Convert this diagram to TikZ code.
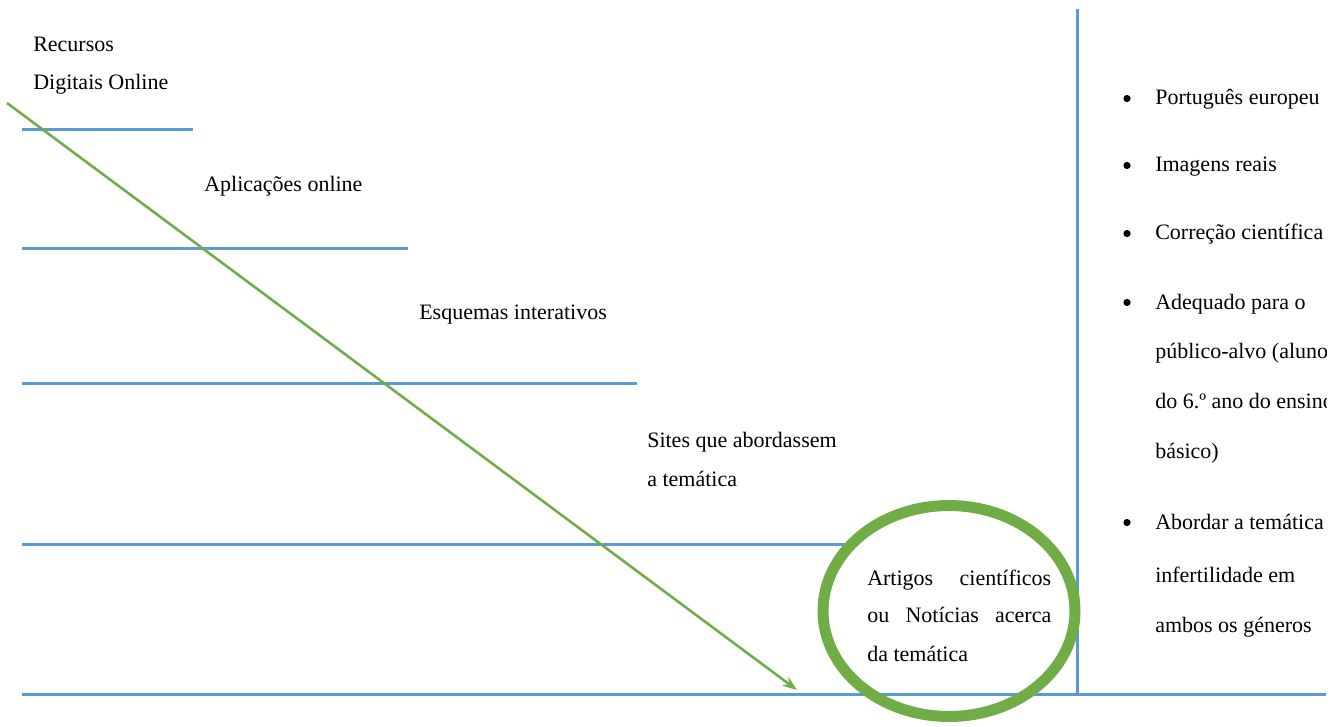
\documentclass[tikz,border=0pt]{standalone}
\usepackage{fontspec}
\setmainfont{Liberation Serif}
\usetikzlibrary{arrows.meta}

\definecolor{lineblue}{HTML}{5B9BD5}
\definecolor{leafgreen}{HTML}{70AD47}

\begin{document}
\begin{tikzpicture}[x=0.75pt,y=-0.75pt]

      \useasboundingbox (0,0) rectangle (1341,727);
      \clip (0,0) rectangle (1326,727);

      \begin{scope}[lineblue,line width=2.25pt]
        \draw (22,130) -- (193,130);
        \draw (22,249) -- (408,249);
        \draw (22,383) -- (637,383);
        \draw (22,544) -- (846,544);
        \draw (22,694) -- (1326,694);
        \draw (1077,9)  -- (1077,694);
      \end{scope}

      \begin{scope}[every node/.style={anchor=base west,inner sep=0pt,
          font=\fontsize{16.5}{20}\selectfont}]
        \node (rec1) at (33,52)   {Recursos};
        \node (rec2) at (33,90)   {Digitais Online};
        \node (apl)  at (204,192) {Aplicações online};
        \node (esq)  at (419,319) {Esquemas interativos};
        \node (sit1) at (647,447) {Sites que abordassem};
        \node (sit2) at (647,486) {a temática};
        \node (art1) at (867,585) {\hbox to 138pt{Artigos\hfill científicos}};
        \node (art2) at (867,622) {\hbox to 138pt{ou\hfill Notícias\hfill acerca}};
        \node (art3) at (867,661) {da temática};
      \end{scope}

      \begin{scope}[every node/.style={anchor=base west,inner sep=0pt,
          font=\fontsize{16.5}{20}\selectfont}]
        \foreach \y in {105,172,240,309,529}
          \fill (1127,\y-6.5) circle [radius=2.7pt];
        \node (crit1)  at (1155,105) {Português europeu};
        \node (crit2)  at (1155,172) {Imagens reais};
        \node (crit3)  at (1155,240) {Correção científica};
        \node (crit4a) at (1155,309) {Adequado para o};
        \node (crit4b) at (1155,358) {público-alvo (alunos};
        \node (crit4c) at (1155,408) {do 6.º ano do ensino};
        \node (crit4d) at (1155,458) {básico)};
        \node (crit5a) at (1155,529) {Abordar a temática};
        \node (crit5b) at (1155,582) {infertilidade em};
        \node (crit5c) at (1155,632) {ambos os géneros};
      \end{scope}

      \coordinate (start) at (7,103);
      \coordinate (end)   at (797,690);
      \draw[leafgreen,line width=1.9pt,-{Stealth[length=11pt,width=8pt]}] (start) -- (end);

      \draw[leafgreen,line width=8.25pt] (949,611) ellipse [x radius=94.5pt,y radius=79.1pt];

    \end{tikzpicture}
\end{document}
